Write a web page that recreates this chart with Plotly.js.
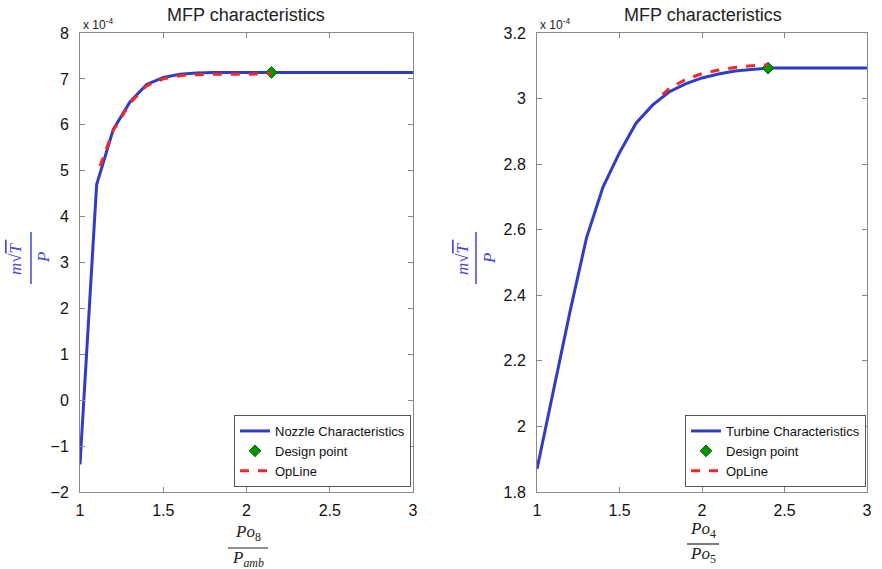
<!DOCTYPE html>
<html><head><meta charset="utf-8">
<script src="https://cdn.plot.ly/plotly-3.0.1.min.js"></script>
<style>body{margin:0;background:#fff}#chart{width:882px;height:569px}</style>
</head><body><div id="chart"></div>
<script>
// Values of mass flow parameter shown in units of 1e-4
const nozzleX = [1, 1.1, 1.2, 1.3, 1.4, 1.5, 1.6, 1.7, 1.8, 2.0, 2.15, 2.5, 3.0];
const nozzleY = [-1.4, 4.7, 5.9, 6.5, 6.88, 7.03, 7.1, 7.13, 7.14, 7.14, 7.14, 7.14, 7.14];
const nozzleOpX = [1.12, 1.2, 1.3, 1.4, 1.5, 1.6, 1.7, 1.8, 2.0, 2.15];
const nozzleOpY = [5.1, 5.88, 6.47, 6.85, 7.0, 7.07, 7.09, 7.1, 7.1, 7.12];
const nozzleDesignX = [2.15];
const nozzleDesignY = [7.14];

const turbX = [1, 1.1, 1.2, 1.3, 1.4, 1.5, 1.6, 1.7, 1.8, 1.9, 2.0, 2.1, 2.2, 2.3, 2.4, 2.7, 3.0];
const turbY = [1.87, 2.11, 2.35, 2.575, 2.73, 2.835, 2.925, 2.98, 3.02, 3.045, 3.063, 3.075, 3.084, 3.089, 3.093, 3.093, 3.093];
const turbOpX = [1.76, 1.8, 1.9, 2.0, 2.1, 2.2, 2.3, 2.4];
const turbOpY = [3.012, 3.03, 3.058, 3.076, 3.087, 3.095, 3.1, 3.103];
const turbDesignX = [2.4];
const turbDesignY = [3.093];

const xTicks = [1, 1.5, 2, 2.5, 3];
const nozzleYTicks = [-2, -1, 0, 1, 2, 3, 4, 5, 6, 7, 8];
const turbYTicks = [1.8, 2, 2.2, 2.4, 2.6, 2.8, 3, 3.2];

const BLUE = 'rgb(48,60,200)', RED = 'rgb(245,40,40)', GREEN = 'rgb(0,150,0)';
const SANS = 'Liberation Sans, Arial, sans-serif';
const tickFont = {family: SANS, size: 16, color: '#111'};

const traces = [
  {x: nozzleX, y: nozzleY, mode: 'lines', name: 'Nozzle Characteristics', line: {color: BLUE, width: 3}, xaxis: 'x', yaxis: 'y', legend: 'legend'},
  {x: nozzleDesignX, y: nozzleDesignY, mode: 'markers', name: 'Design point', marker: {symbol: 'diamond', size: 9, color: GREEN, line: {color: 'rgb(0,100,0)', width: 1}}, xaxis: 'x', yaxis: 'y', legend: 'legend'},
  {x: nozzleOpX, y: nozzleOpY, mode: 'lines', name: 'OpLine', line: {color: RED, width: 3, dash: 'dash'}, xaxis: 'x', yaxis: 'y', legend: 'legend'},
  {x: turbX, y: turbY, mode: 'lines', name: 'Turbine Characteristics', line: {color: BLUE, width: 3}, xaxis: 'x2', yaxis: 'y2', legend: 'legend2'},
  {x: turbDesignX, y: turbDesignY, mode: 'markers', name: 'Design point', marker: {symbol: 'diamond', size: 9, color: GREEN, line: {color: 'rgb(0,100,0)', width: 1}}, xaxis: 'x2', yaxis: 'y2', legend: 'legend2'},
  {x: turbOpX, y: turbOpY, mode: 'lines', name: 'OpLine', line: {color: RED, width: 3, dash: 'dash'}, xaxis: 'x2', yaxis: 'y2', legend: 'legend2'}
];
const axCommon = {showgrid: false, zeroline: false, showline: true, mirror: 'ticks', linecolor: '#888', linewidth: 1,
  ticks: 'inside', ticklen: 5, tickcolor: '#888', tickfont: tickFont};
const legendCommon = {bgcolor: '#fff', bordercolor: '#555', borderwidth: 1, font: {family: SANS, size: 13, color: '#111'},
  xanchor: 'right', yanchor: 'bottom', tracegroupgap: 0};
const serif = 'Liberation Serif, DejaVu Serif, serif';
const titleFont = {family: SANS, size: 18, color: '#222'};
const yTitleFont = {family: serif, size: 17, color: 'rgb(70,70,220)'};
const xTitleFont = {family: serif, size: 17, color: '#222'};

function ann(text, px, py, font, extra) {
  return Object.assign({text: text, x: px/882, y: 1-py/569, xref: 'paper', yref: 'paper', xanchor: 'center', yanchor: 'middle', showarrow: false, font: font}, extra || {});
}
const numer = '<i>m</i>√<span style="text-decoration:overline"><i>T</i> </span>';
const expo = 'x 10<sup>-4</sup>';
const expoFont = {family: SANS, size: 12, color: '#222'};

const layout = {
  width: 882, height: 569, margin: {l: 0, r: 0, t: 0, b: 0},
  paper_bgcolor: '#fff', plot_bgcolor: '#fff', showlegend: true,
  xaxis: Object.assign({}, axCommon, {domain: [80/882, 413/882], range: [1, 3], tickvals: xTicks, anchor: 'y', ticklabelstandoff: 4}),
  yaxis: Object.assign({}, axCommon, {domain: [1-492/569, 1-33/569], range: [-2, 8], tickvals: nozzleYTicks, anchor: 'x', ticklabelstandoff: 7}),
  xaxis2: Object.assign({}, axCommon, {domain: [537/882, 867/882], range: [1, 3], tickvals: xTicks, anchor: 'y2', ticklabelstandoff: 4}),
  yaxis2: Object.assign({}, axCommon, {domain: [1-492/569, 1-33/569], range: [1.8, 3.2], tickvals: turbYTicks, anchor: 'x2', ticklabelstandoff: 7}),
  legend: Object.assign({}, legendCommon, {x: 411/882, y: 1-487/569}),
  legend2: Object.assign({}, legendCommon, {x: 866/882, y: 1-487/569}),
  annotations: [
    ann('MFP characteristics', 246, 15, titleFont),
    ann('MFP characteristics', 703, 15, titleFont),
    ann(expo, 81, 24, expoFont, {xanchor: 'left'}),
    ann(expo, 538, 24, expoFont, {xanchor: 'left'}),
    // y titles (fraction, rotated)
    ann(numer, 15, 258, yTitleFont, {textangle: -90}),
    ann('<i>P</i>', 43, 258, yTitleFont, {textangle: -90}),
    ann(numer, 462, 258, yTitleFont, {textangle: -90}),
    ann('<i>P</i>', 489, 258, yTitleFont, {textangle: -90}),
    // x titles
    ann('<i>Po</i><sub>8</sub>', 248, 533, xTitleFont),
    ann('<i>P<sub>amb</sub></i>', 248, 559, xTitleFont),
    ann('<i>Po</i><sub>4</sub>', 703, 530, xTitleFont),
    ann('<i>Po</i><sub>5</sub>', 703, 555, xTitleFont)
  ],
  shapes: [
    {type: 'line', xref: 'paper', yref: 'paper', x0: 31/882, x1: 31/882, y0: 1-232/569, y1: 1-284/569, line: {color: 'rgb(70,70,220)', width: 1.5}},
    {type: 'line', xref: 'paper', yref: 'paper', x0: 476/882, x1: 476/882, y0: 1-232/569, y1: 1-284/569, line: {color: 'rgb(70,70,220)', width: 1.5}},
    {type: 'line', xref: 'paper', yref: 'paper', x0: 228/882, x1: 268/882, y0: 1-548/569, y1: 1-548/569, line: {color: '#222', width: 1.2}},
    {type: 'line', xref: 'paper', yref: 'paper', x0: 687/882, x1: 719/882, y0: 1-544/569, y1: 1-544/569, line: {color: '#222', width: 1.2}}
  ]
};
Plotly.newPlot('chart', traces, layout, {staticPlot: true});
</script></body></html>
